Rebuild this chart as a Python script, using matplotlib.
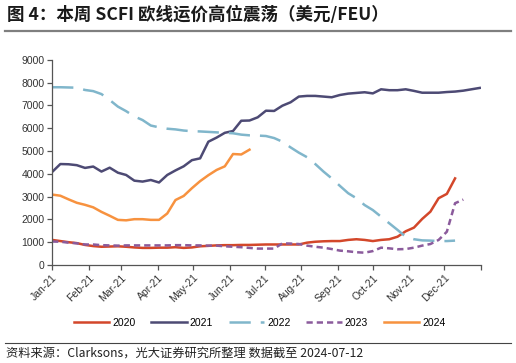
import numpy as np
import matplotlib
matplotlib.use("Agg")
import matplotlib.pyplot as plt
from matplotlib.lines import Line2D

# ---- data (weekly SCFI Europe, USD/FEU) ----
s2020 = [1100, 1050, 1000, 960, 880, 830, 800, 810, 820, 800, 770, 750, 750, 760, 760,
         780, 750, 770, 820, 840, 860, 870, 870, 880, 880, 890, 900, 900, 900, 900,
         900, 980, 1020, 1040, 1050, 1050, 1100, 1130, 1100, 1050, 1100, 1130, 1240,
         1480, 1640, 2020, 2340, 2930, 3120, 3800]
s2021 = [4080, 4430, 4420, 4380, 4260, 4320, 4100, 4270, 4050, 3950, 3700, 3660, 3730,
         3620, 3950, 4150, 4330, 4600, 4680, 5410, 5590, 5800, 5880, 6330, 6340, 6480,
         6770, 6760, 6990, 7140, 7390, 7420, 7420, 7390, 7360, 7460, 7520, 7550, 7580,
         7530, 7710, 7670, 7670, 7710, 7640, 7560, 7560, 7560, 7590, 7610, 7650, 7710, 7770]
s2022 = [7800, 7800, 7790, 7780, 7680, 7630, 7500, 7240, 6950, 6750, 6520, 6360, 6120,
         6040, 5980, 5950, 5900, 5870, 5860, 5840, 5820, 5800, 5780, 5720, 5690, 5680,
         5660, 5570, 5410, 5160, 4930, 4730, 4430, 4100, 3800, 3470, 3150, 2930, 2630,
         2410, 2120, 1830, 1540, 1240, 1130, 1080, 1070, 1050, 1050, 1070]
s2023 = [1030, 1020, 980, 950, 900, 900, 870, 860, 850, 860, 860, 860, 860, 860, 860,
         870, 870, 860, 860, 850, 850, 820, 800, 780, 750, 720, 720, 720, 950, 940,
         920, 850, 800, 760, 700, 630, 600, 560, 540, 610, 760, 730, 690, 700, 760,
         850, 920, 1100, 1460, 2710, 2870]
s2024 = [3090, 3040, 2880, 2730, 2640, 2530, 2330, 2160, 1980, 1960, 2010, 2010, 1980,
         1980, 2260, 2850, 3030, 3370, 3680, 3940, 4170, 4330, 4870, 4850, 5060]

series_names = ["2020", "2021", "2022", "2023", "2024"]
month_labels = ["Jan-21", "Feb-21", "Mar-21", "Apr-21", "May-21", "Jun-21",
                "Jul-21", "Aug-21", "Sep-21", "Oct-21", "Nov-21", "Dec-21"]
month_start_days = [0, 31, 59, 90, 120, 151, 181, 212, 243, 273, 304, 334, 365]

title = "图 4：本周 SCFI 欧线运价高位震荡（美元/FEU）"
source = "资料来源：Clarksons，光大证券研究所整理 数据截至 2024-07-12"

plt.rcParams['font.family'] = ['Liberation Sans', 'Noto Sans CJK SC', 'DejaVu Sans']

fig = plt.figure(figsize=(5.16, 3.63), dpi=100)
ax = fig.add_axes([0.101, 0.270, 0.831, 0.565])

colors = {"2020": "#d3472a", "2021": "#4d4a74", "2022": "#80b6cb",
          "2023": "#8b5b9c", "2024": "#f7923f"}

ax.plot(np.arange(len(s2020)), s2020, color=colors["2020"], lw=1.8, label="2020")
ax.plot(np.arange(len(s2021)), s2021, color=colors["2021"], lw=1.8, label="2021")
ax.plot(np.arange(len(s2022)), s2022, color=colors["2022"], lw=1.8, label="2022",
        dashes=(8.5, 4))
ax.plot(np.arange(len(s2023)), s2023, color=colors["2023"], lw=1.8, label="2023",
        dashes=(2.5, 1.6))
ax.plot(np.arange(len(s2024)), s2024, color=colors["2024"], lw=1.8, label="2024")

xt = [d / 7.0 for d in month_start_days]
ax.set_xlim(0, xt[-1])
ax.set_ylim(0, 9000)
ax.set_yticks(np.arange(0, 9001, 1000))
ax.set_yticklabels([str(v) for v in range(0, 9001, 1000)], fontsize=7.5, color="#333333")
ax.set_xticks(xt)
ax.set_xticklabels(month_labels + [""], fontsize=7.5, color="#333333",
                   rotation=45, ha='right', rotation_mode='anchor')

for sp in ["top", "right"]:
    ax.spines[sp].set_visible(False)
for sp in ["left", "bottom"]:
    ax.spines[sp].set_color("#555555")
    ax.spines[sp].set_linewidth(0.9)
ax.tick_params(axis='both', direction='out', length=3.5, width=0.9, color="#555555", pad=2)

handles, labels = ax.get_legend_handles_labels()
fig.legend(handles, labels, loc='center', bbox_to_anchor=(0.503, 0.111), ncol=5,
           frameon=False, fontsize=7.5, handlelength=3.4, columnspacing=1.5,
           handletextpad=0.3)

fig.text(0.013, 0.958, title, fontsize=12.6, fontweight='bold', va='center', ha='left',
         family=['Noto Sans CJK SC', 'DejaVu Sans'], color="#1a1a1a")
fig.add_artist(Line2D([0.01, 0.99], [0.915, 0.915], transform=fig.transFigure,
                      color="#7f7f7f", lw=1.6))
fig.add_artist(Line2D([0.01, 0.99], [0.056, 0.056], transform=fig.transFigure,
                      color="#444444", lw=0.8))
fig.text(0.011, 0.027, source, fontsize=8.8, va='center', ha='left',
         family=['Noto Sans CJK SC', 'DejaVu Sans'], color="#222222")

fig.savefig("out.png", dpi=100)
